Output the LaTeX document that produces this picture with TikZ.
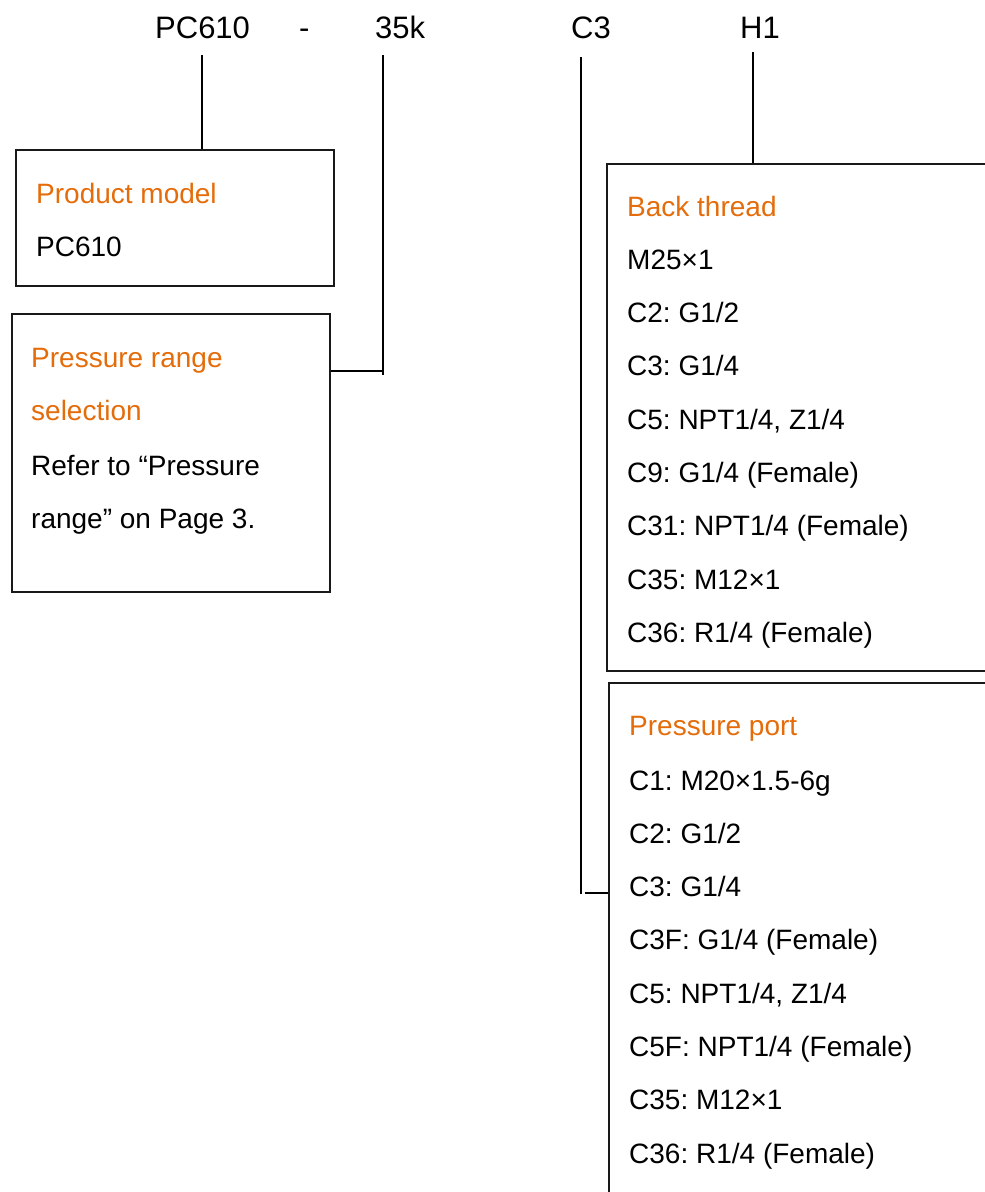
\documentclass[tikz,border=0pt]{standalone}
\usepackage{fontspec}
\setmainfont{Liberation Sans}
\definecolor{ora}{RGB}{228,108,10}
\frenchspacing
\begin{document}
\frenchspacing
\begin{tikzpicture}[x=1pt,y=-1pt,
  box/.style={draw=black!90, line width=1.8pt, rectangle, anchor=north west, inner sep=0pt},
  txt/.style={anchor=base west, inner sep=0pt, font=\fontsize{28}{34}\selectfont\frenchspacing},
  head/.style={txt, text=ora},
  top/.style={anchor=base west, inner sep=0pt, font=\fontsize{31}{37}\selectfont},
  conn/.style={line width=1.8pt, black}]
\useasboundingbox (0,0) rectangle (985,1192);
\clip (0,0) rectangle (985,1192);
% top code labels
\node[top] (lpc) at (155,38) {PC610};
\node[top] (ldash) at (299,38) {-};
\node[top] (lk) at (375,38) {35k};
\node[top] (lc) at (571,38) {C3};
\node[top] (lh) at (740,38) {H1};
% boxes
\node[box, minimum width=318pt, minimum height=136pt] (pm) at (15,149) {};
\node[box, minimum width=318pt, minimum height=278pt] (pr) at (11,313) {};
\node[box, minimum width=420pt, minimum height=507pt] (bt) at (606,163) {};
\node[box, minimum width=420pt, minimum height=580pt] (pp) at (608,682) {};
% product model
\node[head] (pm1) at (36,203) {Product model};
\node[txt] (pm2) at (36,256) {PC610};
% pressure range
\node[head] (pr1) at (31,367) {Pressure range};
\node[head] (pr2) at (31,420) {selection};
\node[txt] (pr3) at (31,475) {Refer to “Pressure};
\node[txt] (pr4) at (31,528) {range” on Page 3.};
% back thread
\node[head] (bt0) at (627,216) {Back thread};
\foreach \t [count=\i] in {M25×1, C2: G1/2, C3: G1/4, {C5: NPT1/4, Z1/4}, C9: G1/4 (Female), C31: NPT1/4 (Female), C35: M12×1, C36: R1/4 (Female)}
  \node[txt] (bt\i) at (627,{216+53.3*\i}) {\t};
% pressure port
\node[head] (pp0) at (629,735) {Pressure port};
\foreach \t [count=\i] in {C1: M20×1.5-6g, C2: G1/2, C3: G1/4, C3F: G1/4 (Female), {C5: NPT1/4, Z1/4}, C5F: NPT1/4 (Female), C35: M12×1, C36: R1/4 (Female)}
  \node[txt] (pp\i) at (629,{790+53.3*(\i-1)}) {\t};
% connectors
\coordinate (pcT) at (202,55);
\draw[conn, line width=2.6pt] (pcT) -- (pcT |- pm.north);
\coordinate (kT) at (383,55);
\coordinate (kB) at (383,375);
\coordinate (kJ) at (383,371);
\draw[conn] (kT) -- (kB);
\draw[conn] (kJ) -- (kJ -| pr.east);
\coordinate (cT) at (581,57);
\coordinate (cB) at (581,894);
\coordinate (cJ) at (585,893);
\draw[conn] (cT) -- (cB);
\draw[conn] (cJ) -- (cJ -| pp.west);
\coordinate (hT) at (753,52);
\draw[conn] (hT) -- (hT |- bt.north);
\end{tikzpicture}
\end{document}
